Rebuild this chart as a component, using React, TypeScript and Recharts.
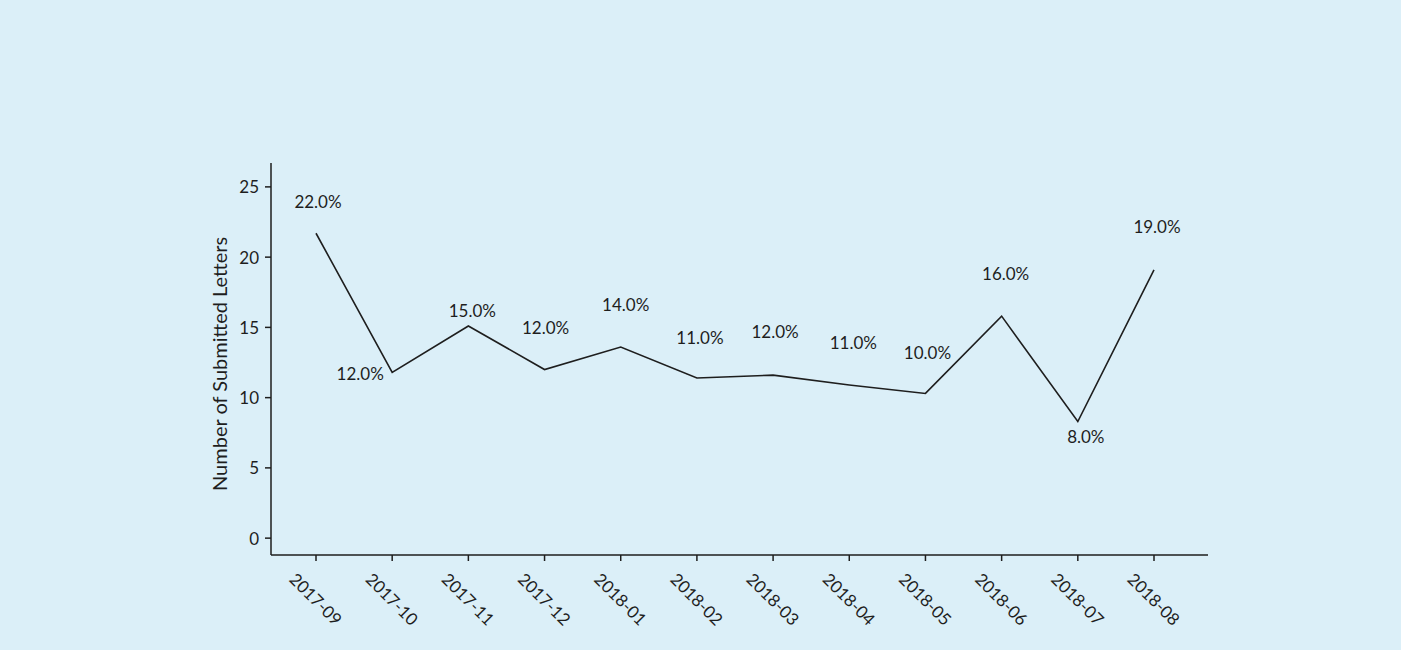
import { LineChart, Line, XAxis, YAxis, LabelList } from 'recharts'

const MONTHS = ['2017-09', '2017-10', '2017-11', '2017-12', '2018-01', '2018-02', '2018-03', '2018-04', '2018-05', '2018-06', '2018-07', '2018-08']
const LETTERS = [21.7, 11.8, 15.1, 12.0, 13.6, 11.4, 11.6, 10.9, 10.3, 15.8, 8.3, 19.1]
const SHARE = [22, 12, 15, 12, 14, 11, 12, 11, 10, 16, 8, 19]
const Y_TICKS = [0, 5, 10, 15, 20, 25]

// label nudges (dx, dy) from each point, like the original layout
const LABEL_NUDGE: Array<[number, number]> = [
    [2, -32], [-32, 1], [4, -15], [1, -42], [5, -43], [3, -40],
    [2, -44], [4, -42], [2, -41], [4, -43], [8, 15], [3, -43],
]

const FONT = 'Lato, "Open Sans", sans-serif'
const INK = '#1e1e1e'

const data = MONTHS.map((month, i) => ({ month, letters: LETTERS[i], share: SHARE[i] }))

const MonthTick = (props: any) => {
    const { x, y, payload } = props
    return (
        <text
            transform={`translate(${x},${y + 36}) rotate(45)`}
            textAnchor="middle"
            dominantBaseline="central"
            fontSize={17}
            fontFamily={FONT}
            fill={INK}
        >
            {payload.value}
        </text>
    )
}

const ValueTick = (props: any) => {
    const { x, y, payload } = props
    return (
        <text
            x={x - 4}
            y={y}
            textAnchor="end"
            dominantBaseline="central"
            fontSize={17}
            fontFamily={FONT}
            fill={INK}
        >
            {payload.value}
        </text>
    )
}

const ShareLabel = (props: any) => {
    const { x, y, index, value } = props
    const [dx, dy] = LABEL_NUDGE[index] || [0, -20]
    return (
        <text
            x={x + dx}
            y={y + dy}
            textAnchor="middle"
            dominantBaseline="central"
            fontSize={17}
            fontFamily={FONT}
            fill={INK}
        >
            {`${Number(value).toFixed(1)}%`}
        </text>
    )
}

export default function App() {
    return (
        <div style={{ position: 'absolute', left: 0, top: 0, width: 1401, height: 650, background: '#dbeff8' }}>
            <LineChart
                width={1401}
                height={650}
                data={data}
                margin={{ top: 163, right: 193, bottom: 0, left: 211 }}
            >
                <XAxis
                    dataKey="month"
                    padding={{ left: 45, right: 54 }}
                    stroke={INK}
                    strokeWidth={1.5}
                    tickSize={6}
                    tick={<MonthTick />}
                    interval={0}
                    height={95}
                />
                <YAxis
                    domain={[-1.2, 26.7]}
                    ticks={Y_TICKS}
                    width={60}
                    stroke={INK}
                    strokeWidth={1.5}
                    tickSize={6}
                    tick={<ValueTick />}
                    label={{
                        value: 'Number of Submitted Letters',
                        angle: -90,
                        position: 'insideLeft',
                        dx: 4,
                        dy: 132,
                        style: { fontSize: 20, fontFamily: FONT, fill: INK },
                    }}
                />
                <Line
                    type="linear"
                    dataKey="letters"
                    stroke={INK}
                    strokeWidth={1.6}
                    dot={false}
                    activeDot={false}
                    isAnimationActive={false}
                >
                    <LabelList dataKey="share" content={<ShareLabel />} />
                </Line>
            </LineChart>
        </div>
    )
}
